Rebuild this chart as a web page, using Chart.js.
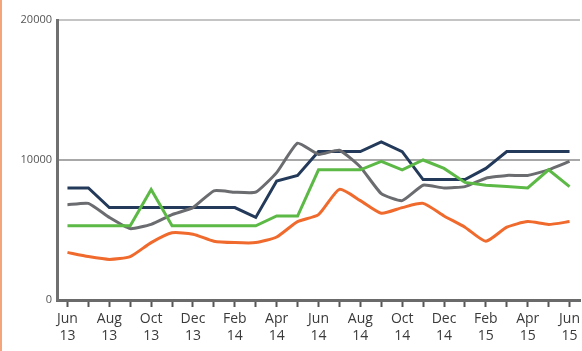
<!DOCTYPE html>
<html>
<head>
<meta charset="utf-8">
<script src="https://cdn.jsdelivr.net/npm/chart.js@4/dist/chart.umd.min.js"></script>
<style>
  html, body { margin: 0; padding: 0; background: #fff; overflow: hidden; }
  #wrap { position: absolute; left: 0; top: 0; width: 600px; height: 351px; }
  #edge { position: absolute; left: 0; top: 0; width: 2px; height: 351px; background: #f5a57c; }
</style>
</head>
<body>
<div id="wrap"><canvas id="chart"></canvas></div>
<div id="edge"></div>
<script>
// monthly, Jun 13 .. Jun 15
const months = ['Jun 13','Jul 13','Aug 13','Sep 13','Oct 13','Nov 13','Dec 13',
  'Jan 14','Feb 14','Mar 14','Apr 14','May 14','Jun 14','Jul 14','Aug 14','Sep 14','Oct 14','Nov 14','Dec 14',
  'Jan 15','Feb 15','Mar 15','Apr 15','May 15','Jun 15'];

const navy   = [8000, 8000, 6600, 6600, 6600, 6600, 6600, 6600, 6600, 5900, 8500, 8900, 10600,
                10600, 10600, 11300, 10600, 8600, 8600, 8600, 9400, 10600, 10600, 10600, 10600];
const grey   = [6800, 6900, 5900, 5100, 5400, 6100, 6600, 7800, 7700, 7700, 9100, 11200, 10400,
                10700, 9500, 7600, 7100, 8200, 8000, 8100, 8700, 8900, 8900, 9300, 9900];
const green  = [5300, 5300, 5300, 5300, 7900, 5300, 5300, 5300, 5300, 5300, 6000, 6000, 9300,
                9300, 9300, 9900, 9300, 10000, 9400, 8400, 8200, 8100, 8000, 9300, 8100];
const orange = [3400, 3100, 2900, 3100, 4100, 4800, 4700, 4200, 4100, 4100, 4500, 5600, 6100,
                7900, 7100, 6200, 6600, 6900, 6000, 5200, 4200, 5200, 5600, 5400, 5600];

const yMax = 20000;
const yStep = 10000;

function line(data, color, tension) {
    return {
        data: data,
        borderColor: color,
        borderWidth: 3,
        pointRadius: 0,
        tension: tension,
        fill: false
    };
}

new Chart(document.getElementById('chart'), {
    type: 'line',
    data: {
        labels: months,
        datasets: [
            line(orange, '#ef6a2c', 0.2),
            line(green, '#5cb946', 0),
            line(grey, '#6b6c70', 0.15),
            line(navy, '#243a5a', 0)
        ]
    },
    options: {
        responsive: true,
        maintainAspectRatio: false,
        animation: false,
        layout: { padding: { left: 0, right: 20, top: 20, bottom: 0 } },
        plugins: { legend: { display: false }, tooltip: { enabled: false } },
        scales: {
            x: {
                offset: true,
                grid: {
                    drawOnChartArea: false,
                    drawTicks: true,
                    tickLength: 7,
                    tickWidth: 2,
                    tickColor: '#555'
                },
                border: { color: '#6a6a6a', width: 3 },
                ticks: {
                    autoSkip: false,
                    maxRotation: 0,
                    padding: 4,
                    color: '#3a3a3a',
                    font: { family: 'Open Sans', size: 14 },
                    callback: function (v, i) {
                        return i % 2 === 0 ? months[i].split(' ') : '';
                    }
                },
                afterFit: function (s) { s.height = 51; }
            },
            y: {
                min: 0,
                max: yMax,
                grid: {
                    drawTicks: false,
                    lineWidth: 2,
                    color: function (c) {
                        if (c.tick.value === yMax) return '#c4c4c4';
                        if (c.tick.value === 0) return 'rgba(0,0,0,0)';
                        return '#a8a8a8';
                    }
                },
                border: { color: '#707070', width: 3 },
                ticks: {
                    stepSize: yStep,
                    padding: 5,
                    color: '#555',
                    font: { family: 'Open Sans', size: 11 },
                    callback: function (v) { return String(v); }
                },
                afterFit: function (s) { s.width = 57; }
            }
        }
    }
});
</script>
</body>
</html>
